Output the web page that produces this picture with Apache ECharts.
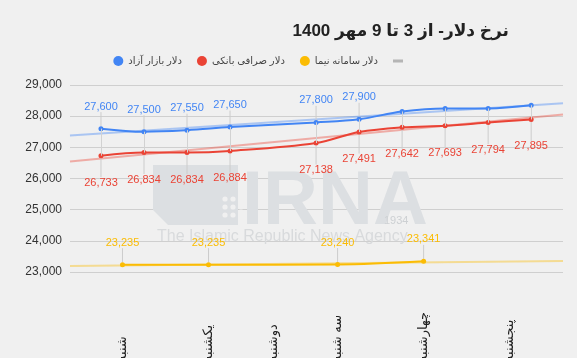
<!DOCTYPE html>
<html>
<head>
<meta charset="utf-8">
<script src="https://cdn.jsdelivr.net/npm/echarts@6/dist/echarts.min.js"></script>
<style>
html,body{margin:0;padding:0;background:#f0f0f0;}
#chart{width:577px;height:358px;}
</style>
</head>
<body>
<div id="chart"></div>
<script>
// ---- data ----
const titleText = 'نرخ دلار- از 3 تا 9 مهر 1400';
const seriesNames = ['دلار بازار آزاد', 'دلار صرافی بانکی', 'دلار سامانه نیما'];
const trendName = 'trend';
const dayLabels = ['شنبه', 'یکشنبه', 'دوشنبه', 'سه شنبه', 'چهارشنبه', 'پنجشنبه'];
const dayPositions = [0.5, 2.5, 4, 5.5, 7.5, 9.5];
const xMin = -0.72, xMax = 10.74;

const freeX = [0, 1, 2, 3, 5, 6, 7, 8, 9, 10];
const freeValues = [27600, 27500, 27550, 27650, 27800, 27900, 28150, 28250, 28250, 28350];
const freeLabelCount = 6;
const bankX = [0, 1, 2, 3, 5, 6, 7, 8, 9, 10];
const bankValues = [26733, 26834, 26834, 26884, 27138, 27491, 27642, 27693, 27794, 27895];
const nimaX = [0.5, 2.5, 5.5, 7.5];
const nimaValues = [23235, 23235, 23240, 23341];

const trendX = [xMin, xMax];
const freeTrend = [27381, 28417];
const bankTrend = [26542, 28054];
const nimaTrend = [23192, 23352];

const yMin = 23000, yMax = 29000, yStep = 1000;

// ---- styles ----
const BLUE = '#4285f4', RED = '#ea4335', YELLOW = '#fbbc04';
const fmt = v => Number(v).toLocaleString('en-US');
const FONT = 'Arial, "DejaVu Sans", sans-serif';

function pts(xs, vs, labelCount) {
  return xs.map((x, i) => {
    const item = { value: [x, vs[i]] };
    if (labelCount != null && i >= labelCount) item.label = { show: false };
    return item;
  });
}

function mainSeries(name, color, xs, vs, pos, dy, labelCount, extra) {
  return Object.assign({
    name: name,
    type: 'line',
    data: pts(xs, vs, labelCount),
    smooth: 0.35,
    symbol: 'circle',
    symbolSize: 5,
    z: 3,
    lineStyle: { color: color, width: 2 },
    itemStyle: { color: color },
    label: {
      show: true, position: pos, distance: 5,
      color: color, fontSize: 11, fontFamily: FONT,
      formatter: p => fmt(p.value[1])
    },
    labelLayout: { dy: dy },
    labelLine: { show: true, lineStyle: { color: '#cccccc', width: 1 } },
    emphasis: { disabled: true }
  }, extra || {});
}

function trendSeries(color, vs) {
  return {
    name: trendName,
    type: 'line',
    data: trendX.map((x, i) => [x, vs[i]]),
    symbol: 'none',
    z: 2,
    lineStyle: { color: color, width: 2, opacity: 0.4 },
    itemStyle: { color: color },
    emphasis: { disabled: true },
    silent: true
  };
}

const chart = echarts.init(document.getElementById('chart'), null, { renderer: 'canvas' });

const dots = [];
[225, 233, 241].forEach(cx => [199, 207, 215].forEach(cy => {
  dots.push({ type: 'circle', shape: { cx: cx, cy: cy, r: 2.6 }, style: { fill: '#f0f0f0' }, z: 1, silent: true });
}));

chart.setOption({
  backgroundColor: '#f0f0f0',
  animation: false,
  textStyle: { fontFamily: FONT },
  title: {
    text: titleText,
    right: 63, top: 18,
    textStyle: { fontSize: 17, fontWeight: 'bold', color: '#222', fontFamily: FONT }
  },
  legend: {
    right: 169, top: 51,
    itemWidth: 10, itemHeight: 10, itemGap: 15,
    textStyle: { fontSize: 10, color: '#444', fontFamily: FONT },
    formatter: n => (n === trendName ? '' : n),
    data: [
      { name: seriesNames[0], icon: 'circle', itemStyle: { color: BLUE, borderWidth: 0 } },
      { name: seriesNames[1], icon: 'circle', itemStyle: { color: RED, borderWidth: 0 } },
      { name: seriesNames[2], icon: 'circle', itemStyle: { color: YELLOW, borderWidth: 0 } },
      { name: trendName, icon: 'path://M0,0H10V3H0Z', itemStyle: { color: '#b5b5b5', borderWidth: 0 } }
    ]
  },
  grid: { left: 70, right: 14, top: 85, bottom: 86, outerBoundsMode: 'none', containLabel: false },
  xAxis: {
    type: 'value', min: xMin, max: xMax,
    axisLine: { show: false }, axisTick: { show: false }, splitLine: { show: false },
    axisLabel: {
      customValues: dayPositions,
      formatter: v => dayLabels[dayPositions.indexOf(v)],
      rotate: 90, align: 'left', verticalAlign: 'middle',
      margin: 90, fontSize: 13, color: '#222', fontFamily: FONT,
      showMinLabel: true, showMaxLabel: true
    }
  },
  yAxis: {
    type: 'value', min: yMin, max: yMax, interval: yStep,
    axisLine: { show: false }, axisTick: { show: false },
    splitLine: { lineStyle: { color: '#cfcfcf', width: 1 } },
    axisLabel: { fontSize: 12, color: '#333', margin: 8, fontFamily: FONT, formatter: v => fmt(v) }
  },
  graphic: [
    { type: 'polygon', z: 1, silent: true,
      shape: { points: [[153, 165], [238, 165], [238, 225], [168, 225], [153, 210]] },
      style: { fill: '#dcdfe2' } },
    ...dots,
    { type: 'text', z: 1, silent: true, x: 242, y: 165,
      style: { text: 'IRNA', font: 'bold 76px Arial, "Liberation Sans", sans-serif', fill: '#dcdfe2' } },
    { type: 'text', z: 1, silent: true, x: 384, y: 221,
      style: { text: '1934', font: '11px Arial, sans-serif', fill: '#cdd0d3', verticalAlign: 'middle' } },
    { type: 'text', z: 1, silent: true, x: 157, y: 237,
      style: { text: 'The Islamic Republic News Agency', font: '16px Arial, sans-serif', fill: '#d8dadc', verticalAlign: 'middle' } }
  ],
  series: [
    trendSeries(BLUE, freeTrend),
    trendSeries(RED, bankTrend),
    trendSeries(YELLOW, nimaTrend),
    mainSeries(seriesNames[0], BLUE, freeX, freeValues, 'top', -9, freeLabelCount),
    mainSeries(seriesNames[1], RED, bankX, bankValues, 'bottom', 14, null, {
      markLine: {
        silent: true, symbol: 'none', label: { show: false },
        lineStyle: { color: '#d2d2d2', width: 1, type: 'solid' },
        emphasis: { disabled: true },
        data: bankX.map((x, i) => [{ coord: [x, freeValues[i]] }, { coord: [x, bankValues[i]] }])
      }
    }),
    mainSeries(seriesNames[2], YELLOW, nimaX, nimaValues, 'top', -9, null)
  ]
});
</script>
</body>
</html>
